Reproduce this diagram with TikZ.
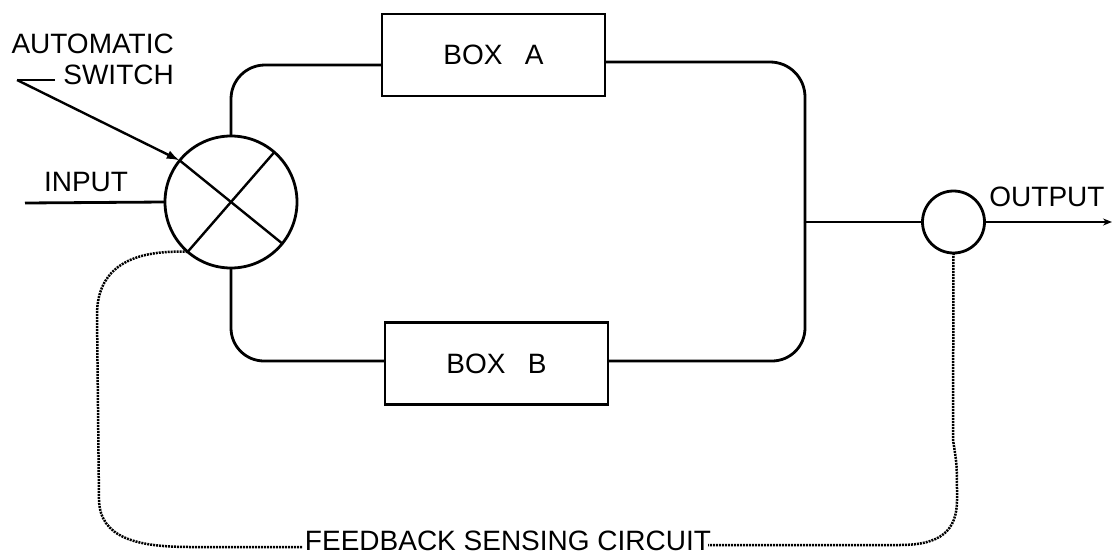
\documentclass[tikz,border=0pt]{standalone}
\usepackage{fontspec}
\setmainfont{Liberation Sans}
\usetikzlibrary{arrows.meta}
\begin{document}
\begin{tikzpicture}[x=1pt,y=-1pt,
  wire/.style={line width=2.8pt},
  unitbox/.style={draw, line width=2.8pt, minimum width=223pt, minimum height=82pt,
    inner sep=0pt, outer sep=0pt, font=\fontsize{28}{30}\selectfont},
  junction/.style={draw, circle, line width=2.8pt, inner sep=0pt, outer sep=0pt},
  txt/.style={font=\fontsize{28}{30}\selectfont, inner sep=0pt},
  fbline/.style={line width=2.5pt, dash pattern=on 2pt off 1pt, line cap=butt},
]
\useasboundingbox (0,0) rectangle (1112,554);

% switch, boxes, output junction
\node[junction, minimum size=132pt] (sw) at (231,202) {};
\node[unitbox] (boxA) at (493.5,55) {BOX\hspace{0.8em}A};
\node[unitbox] (boxB) at (496.5,363.5) {BOX\hspace{0.8em}B};
\node[junction, minimum size=62pt] (oc) at (953.5,222) {};

% cross inside the switch
\draw[wire, line width=2.4pt] (sw.141) -- (sw.321);
\draw[wire, line width=2.4pt] (sw.49) -- (sw.229);

% labels
\node[txt, anchor=east] (auto) at (174,44) {AUTOMATIC};
\node[txt, anchor=east] (swl) at (174,75) {SWITCH};
\node[txt] (inl) at (86,182) {INPUT};
\node[txt] (outl) at (1047,197) {OUTPUT};
\node[txt, anchor=base] (fb) at (508,550) {FEEDBACK SENSING CIRCUIT};

% helper coordinates
\coordinate (yA) at (0,65);
\coordinate (yAr) at (0,62);
\coordinate (yB) at (0,361);
\coordinate (jn) at (805,222);
\coordinate (in) at (25,203);
\coordinate (out) at (1112,222);
\coordinate (tick) at (55,80);
\coordinate (tip) at (17,80);
\coordinate (fbl) at (302,547);
\coordinate (fbr) at (708,545);

% signal paths
\draw[wire] (in) -- (sw.west);
\draw[wire, rounded corners=34pt] (sw.north) |- (boxA.west |- yA);
\draw[wire, rounded corners=33pt] (sw.south) |- (boxB.west |- yB);
\draw[wire, rounded corners=35pt] (boxA.east |- yAr) -| (jn);
\draw[wire, rounded corners=33pt] (boxB.east |- yB) -| (jn);
\draw[wire] (jn) -- (oc.west);
\draw[wire, -{Stealth[length=9pt,width=7pt]}] (oc.east) -- (out);

% switch pointer
\draw[wire, line width=2.4pt] (tick) -- (tip);
\draw[wire, line width=2.4pt, -{Latex[length=13pt,width=9pt]}] (tip) -- (sw.141);

% feedback sensing loop
\draw[fbline] (sw.229) .. controls (140,250) and (97,262) .. (97,315)
  -- (99,500) .. controls (100,537) and (135,547) .. (190,547) -- (fbl);
\draw[fbline] (oc.south) -- (953,440) .. controls (957,465) .. (957,500)
  .. controls (957,531) and (940,545) .. (900,545) -- (fbr);
\end{tikzpicture}
\end{document}
